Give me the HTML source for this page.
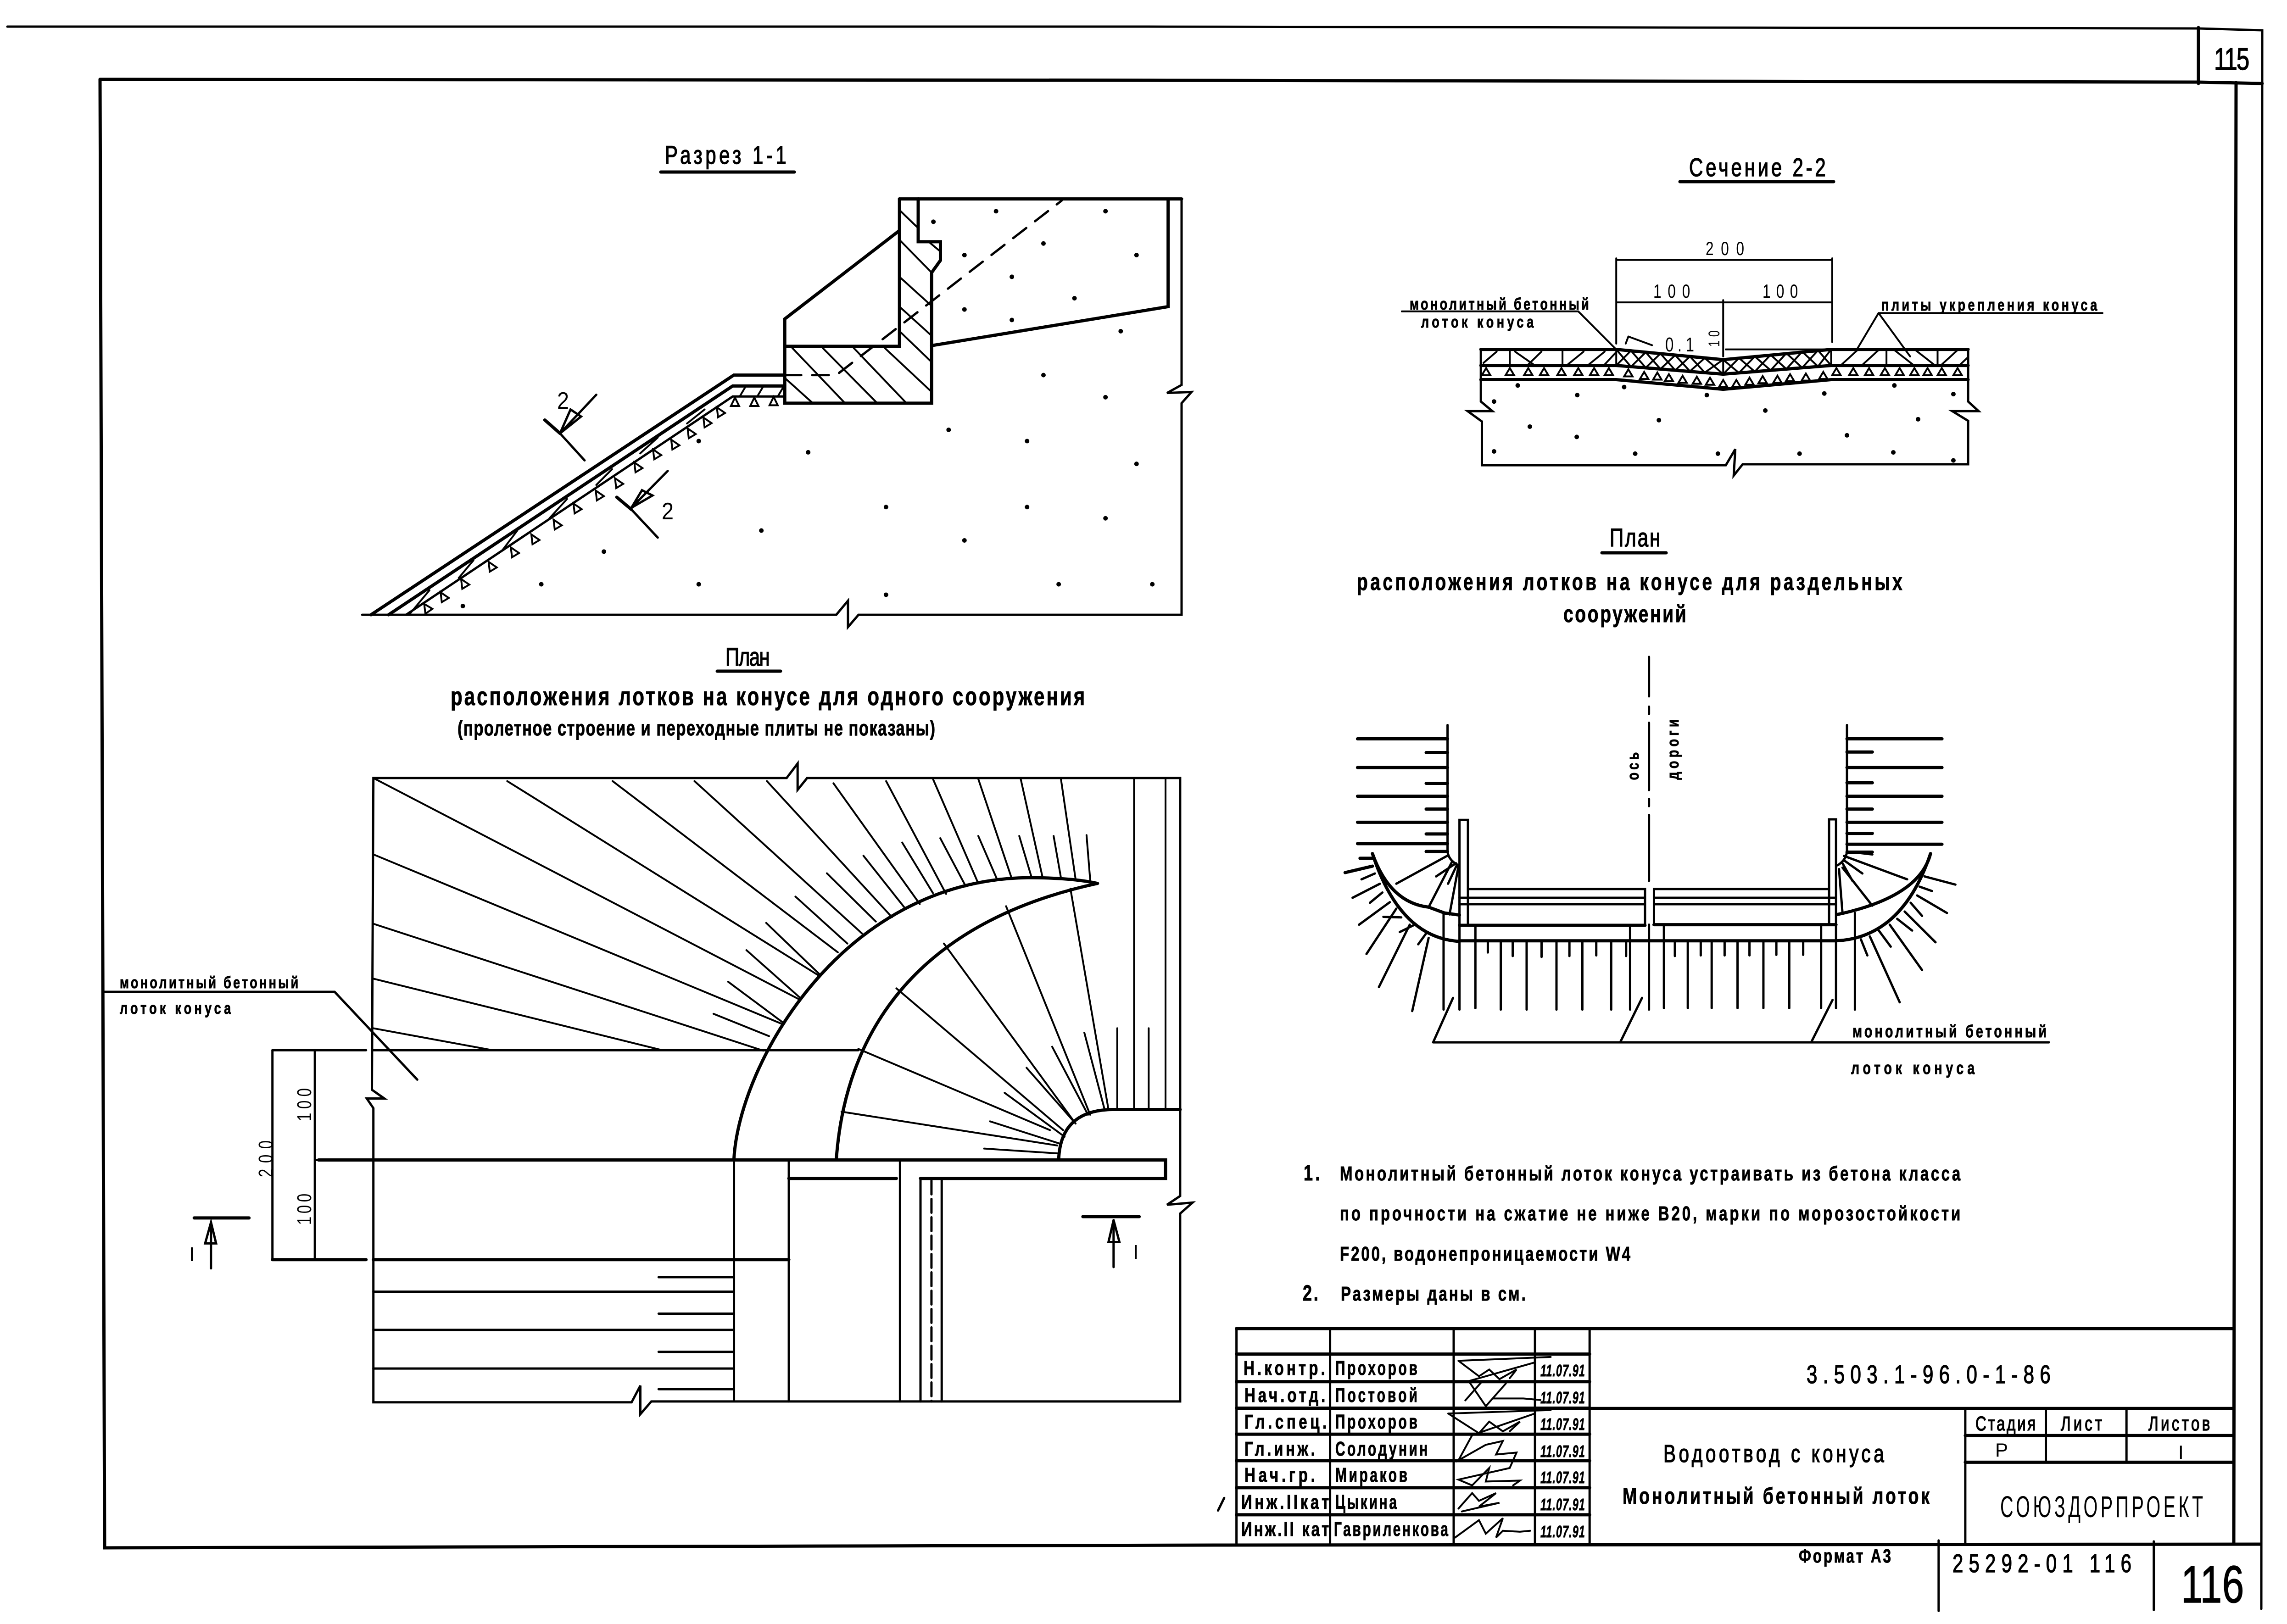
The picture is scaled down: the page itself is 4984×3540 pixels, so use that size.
<!DOCTYPE html>
<html><head><meta charset="utf-8"><title>Водоотвод с конуса</title>
<style>
html,body{margin:0;padding:0;background:#fff}
svg{display:block}
path,line{vector-effect:non-scaling-stroke}
.l{fill:none;stroke:#000;stroke-width:5;stroke-linejoin:miter;stroke-linecap:round}
.k{stroke-width:7}.t{stroke-width:4}.f{fill:#000;stroke:none}
.d{fill:none;stroke:#000;stroke-width:10;stroke-linecap:round}
text{fill:#000;stroke:none;font-family:"Liberation Sans",sans-serif}
.b{font-weight:700;stroke:#000;stroke-width:1}
.m{stroke:#000;stroke-width:1.5}
</style></head><body>
<svg xmlns="http://www.w3.org/2000/svg" width="4984" height="3540" viewBox="0 0 4984 3540">
<rect width="4984" height="3540" fill="#fff"/>

<!-- sheet frame -->
<g class="l">
<path d="M16,58 L2500,58 L4791,62 L4930,66 L4928,3507"/>
<path class="k" d="M4791,60 V182"/>
<path class="k" d="M218,173 L2500,175 L4791,179 L4930,182"/>
<path class="k" d="M4873,180 L4868,3366"/>
<path class="k" d="M218,173 L228,3374 L2650,3368 L4925,3366"/>
</g>
<text class="m" transform="translate(4825,152) scale(.75,1)" font-size="68" textLength="103" lengthAdjust="spacing">115</text>

<!-- Разрез 1-1 -->
<g class="l" transform="translate(700,250) scale(1.2755,.765)">
<path class="k" d="M988,240 H1470"/>
<path d="M1470,240 V770 L1445,793 L1487,790 L1470,822 V1425 H918 L900,1460 V1385 L880,1425 H70"/>
<path class="k" d="M988,240 V660 H792 V822 H1043 V450 L1058,415 V362 H1020 V240"/>
<path class="k" d="M792,660 V582 L988,330"/>
<path class="k" d="M1447,245 V547 L1043,658"/>
<path class="k" d="M85,1425 L705,742 H792"/>
<path d="M792,742 H880 L1265,245" stroke-dasharray="36 24"/>
<path class="k" d="M115,1425 L703,773 H792"/>
<path d="M145,1425 L703,803 H792"/>
<path class="t" d="M990,275 L1018,320 M990,360 L1043,450 M990,465 L1043,545 M990,550 L1043,630 M990,620 L1043,705 M1040,365 L1058,390 M805,665 L895,822 M857,665 L950,822 M910,665 L1000,822 M963,665 L1043,790 M792,750 L840,822"/>
<path class="t" d="M150,1425 L185,1355 M235,1320 L260,1270 M310,1240 L335,1185 M390,1150 L420,1095 M470,1055 L497,1010 M545,965 L575,920 M625,880 L655,840 M715,803 L725,775 M745,803 L755,775 M780,803 L790,775"/>
<path class="t" d="M176,1394L190,1408L178,1422ZM204,1361L218,1377L206,1389ZM239,1323L253,1339L241,1351ZM286,1274L300,1290L288,1302ZM324,1233L338,1249L326,1261ZM359,1196L373,1212L361,1224ZM397,1154L411,1170L399,1182ZM431,1108L445,1124L433,1136ZM469,1071L483,1087L471,1099ZM502,1036L516,1052L504,1064ZM535,991L549,1007L537,1019ZM567,954L581,970L569,982ZM598,926L612,942L600,954ZM626,894L640,910L628,922ZM653,863L667,879L655,891ZM676,834L690,850L678,862ZM707,806L714,830L700,830ZM740,806L747,830L733,830ZM773,804L780,828L766,828Z"/>
<path class="k" d="M382,870 L408,908"/>
<path d="M408,908 L450,985 M470,798 L408,908 M408,908 L426,840 L444,860 Z"/>
<path class="k" d="M505,1090 L530,1125"/>
<path d="M530,1125 L575,1205 M592,1015 L530,1120 M530,1120 L548,1070 L566,1085 Z"/>
<path class="d" d="M1153,275h.01M1340,275h.01M1046,305h.01M1234,367h.01M1099,400h.01M1393,400h.01M1180,462h.01M1287,523h.01M1099,555h.01M1180,585h.01M1366,617h.01M1234,742h.01M1340,805h.01M1072,898h.01M1206,930h.01M645,930h.01M832,962h.01M1393,995h.01M965,1118h.01M1206,1118h.01M1340,1150h.01M752,1185h.01M1099,1213h.01M483,1245h.01M376,1338h.01M645,1338h.01M1260,1338h.01M1420,1338h.01M965,1368h.01M242,1400h.01"/>
</g>
<text class="m" transform="translate(1449,357) scale(.75,1)" font-size="56" textLength="353" lengthAdjust="spacing">Разрез 1-1</text>
<path class="l k" d="M1440,375 H1731"/>
<text transform="translate(1214,891) scale(.9,1)" font-size="52">2</text>
<text transform="translate(1442,1132) scale(.9,1)" font-size="52">2</text>

<!-- Сечение 2-2 -->
<g class="l" transform="translate(2900,300) scale(1.148,.7015)">
<path d="M285,658 V820 L307,850 L260,850 L287,882 V1018 H750 L768,968 L765,1050 L782,1015 H1210 V880 L1180,850 H1230 L1210,820 V658"/>
<path class="k" d="M285,658 H542 L745,690 L950,658 H1210"/>
<path class="k" d="M285,708 H542 L745,735 L950,708 H1210"/>
<path class="k" d="M285,752 H542 L745,782 L950,752 H1210"/>
<path class="t" d="M542,658 V708 M950,658 V708 M745,690 V735 M340,660 V708 M440,660 V708 M1055,660 V708 M1152,660 V708"/>
<path class="t" d="M290,700 L315,665 M350,665 L385,705 M375,705 L400,665 M450,705 L480,665 M490,705 L520,665 M520,705 L540,670 M970,705 L1000,660 M1010,705 L1040,660 M1070,660 L1105,705 M1110,660 L1145,705 M1160,705 L1190,660 M1195,705 L1208,685"/>
<path class="t" d="M542,658 L570,712 L598,667 L626,719 L654,676 L682,726 L710,685 L745,735 M542,708 L570,662 L598,715 L626,671 L654,723 L682,680 L710,730 L745,690 M745,690 L775,731 L805,680 L835,723 L865,670 L895,715 L925,661 L950,708 M745,735 L775,685 L805,727 L835,675 L865,719 L895,665 L925,711 L950,658"/>
<path class="t" d="M287,738h16l-8,-22zM332,738h16l-8,-22zM367,738h16l-8,-22zM397,738h16l-8,-22zM430,738h16l-8,-22zM462,738h16l-8,-22zM492,738h16l-8,-22zM520,738h16l-8,-22zM557,742h16l-8,-22zM587,750h16l-8,-22zM612,752h16l-8,-22zM634,757h16l-8,-22zM660,762h16l-8,-22zM687,765h16l-8,-22zM712,768h16l-8,-22zM737,775h16l-8,-22zM762,775h16l-8,-22zM787,768h16l-8,-22zM812,763h16l-8,-22zM840,762h16l-8,-22zM864,757h16l-8,-22zM894,755h16l-8,-22zM927,750h16l-8,-22zM952,738h16l-8,-22zM984,738h16l-8,-22zM1014,738h16l-8,-22zM1044,738h16l-8,-22zM1072,738h16l-8,-22zM1100,738h16l-8,-22zM1125,738h16l-8,-22zM1152,738h16l-8,-22zM1182,738h16l-8,-22z"/>
<path class="t" d="M542,375 V640 M952,375 V635 M745,505 V680 M542,380 H952 M542,512 H952 M750,658 H950"/>
<path class="t" d="M565,618 L610,645 M565,618 L560,640"/>
<path class="t" d="M135,540 H470 L540,655 M1040,545 H1465 M1040,545 L1000,655 M1040,545 L1100,680"/>
<path class="d" d="M355,770h.01M557,775h.01M1070,770h.01M1182,797h.01M468,800h.01M714,800h.01M937,795h.01M310,820h.01M825,848h.01M623,878h.01M1115,875h.01M378,898h.01M467,930h.01M980,925h.01M310,975h.01M578,982h.01M735,982h.01M890,982h.01M1068,978h.01M1182,1003h.01"/>
</g>
<text class="m" transform="translate(3681,384) scale(.75,1)" font-size="56" textLength="397" lengthAdjust="spacing">Сечение 2-2</text>
<path class="l k" d="M3661,396 H3996"/>
<text transform="translate(3717,556) scale(.75,1)" font-size="42" textLength="112" lengthAdjust="spacing">200</text>
<text transform="translate(3603,649) scale(.75,1)" font-size="42" textLength="107" lengthAdjust="spacing">100</text>
<text transform="translate(3841,649) scale(.75,1)" font-size="42" textLength="103" lengthAdjust="spacing">100</text>
<text transform="translate(3629,766) scale(.75,1)" font-size="44" textLength="84" lengthAdjust="spacing">0.1</text>
<text transform="translate(3747,738) rotate(-90) scale(.75,1)" text-anchor="middle" font-size="34" textLength="48" lengthAdjust="spacing">10</text>
<text class="b" transform="translate(3072,675) scale(.75,1)" font-size="36" textLength="521" lengthAdjust="spacing">монолитный бетонный</text>
<text class="b" transform="translate(3097,714) scale(.75,1)" font-size="36" textLength="327" lengthAdjust="spacing">лоток конуса</text>
<text class="b" transform="translate(4100,677) scale(.75,1)" font-size="36" textLength="627" lengthAdjust="spacing">плиты укрепления конуса</text>
<text class="m" transform="translate(3508,1191) scale(.75,1)" font-size="56" textLength="147" lengthAdjust="spacing">План</text>
<path class="l k" d="M3491,1205 H3631"/>
<text class="b" transform="translate(2957,1286) scale(.75,1)" font-size="52" textLength="1585" lengthAdjust="spacing">расположения лотков на конусе для раздельных</text>
<text class="b" transform="translate(3407,1356) scale(.75,1)" font-size="52" textLength="357" lengthAdjust="spacing">сооружений</text>

<!-- План (левый) заголовки -->
<text class="m" transform="translate(1581,1451) scale(.75,1)" font-size="56" textLength="129" lengthAdjust="spacing">План</text>
<path class="l k" d="M1563,1463 H1701"/>
<text class="b" transform="translate(982,1537) scale(.75,1)" font-size="56" textLength="1843" lengthAdjust="spacing">расположения лотков на конусе для одного сооружения</text>
<text class="b" transform="translate(997,1603) scale(.75,1)" font-size="46" textLength="1388" lengthAdjust="spacing">(пролетное строение и переходные плиты не показаны)</text>

<!-- План (левый) -->
<g class="l" transform="translate(200,1650) scale(1.594,.957)">
<path d="M385,48 H950 L965,15 V75 L978,48 H1488 V1000 L1470,1020 L1505,1015 L1488,1040 V1468 H765 L750,1497 V1432 L738,1470 H385 V800 L376,778 H400 L383,758 Z"/>
<path class="t" d="M385,48 L967,552 M385,222 L942,607 M385,380 L918,669 M385,505 L780,668 M385,618 L548,668"/>
<path class="t" d="M568,55 L994,498 M712,55 L1020,445 M824,55 L1053,402 M923,55 L1094,365 M1014,60 L1132,335 M1086,55 L1168,312 M1150,50 L1212,288 M1212,50 L1258,278 M1270,50 L1300,275 M1325,50 L1345,278"/>
<path class="t" d="M850,585 L926,636 M870,512 L945,605 M895,440 L968,548 M922,378 L995,495 M962,318 L1033,425 M1005,265 L1072,375 M1055,225 L1112,345 M1108,195 L1150,310 M1160,185 L1195,295 M1212,180 L1238,280 M1268,180 L1285,275 M1315,180 L1325,275 M1360,178 L1365,280"/>
<path class="t" d="M1425,48 V803 M1468,48 V803"/>
<path class="k" d="M878,915 C885,700 1025,280 1280,275 Q1340,275 1375,288"/>
<path class="k" d="M1018,915 C1030,640 1120,380 1375,288"/>
<path class="t" d="M1048,665 L1310,850 M1100,527 L1328,850 M1165,425 L1345,835 M1250,340 L1365,815 M1338,300 L1390,803 M1025,808 L1320,885"/>
<path class="t" d="M1220,892 L1320,903 M1228,830 L1322,880 M1248,765 L1330,865 M1278,708 L1345,835 M1313,660 L1362,815 M1357,628 L1385,805 M1402,618 V803 M1445,618 V803"/>
<path class="k" d="M1322,915 Q1325,805 1395,803 H1488"/>
<path d="M247,668 H375 M385,668 H1048"/>
<path class="k" d="M310,918 H1468 V960 H1133 M1100,960 H953"/>
<path d="M247,668 V1145 M305,668 V1145 M305,918 H375"/>
<path class="k" d="M247,1145 H375 M385,1145 H953"/>
<path d="M878,915 V1465 M953,918 V1468 M1105,918 V1468 M1133,960 V1468 M1162,960 V1468"/>
<path d="M1148,965 V1468" stroke-dasharray="30 10"/>
<path d="M385,1218 H878 M385,1305 H878 M385,1393 H878 M775,1185 H878 M775,1268 H878 M775,1355 H878 M775,1440 H878"/>
<path d="M15,535 H332 L445,735"/>
<path class="k" d="M140,1050 H215 M1355,1047 H1432"/>
<path d="M163,1060 V1165 M155,1108 L163,1060 L170,1108 Z M1397,1055 V1162 M1390,1105 L1397,1055 L1405,1105 Z"/>
</g>
<text class="b" transform="translate(261,2154) scale(.75,1)" font-size="36" textLength="519" lengthAdjust="spacing">монолитный бетонный</text>
<text class="b" transform="translate(261,2210) scale(.75,1)" font-size="36" textLength="323" lengthAdjust="spacing">лоток конуса</text>
<text transform="translate(678,2408) rotate(-90) scale(.75,1)" text-anchor="middle" font-size="44" textLength="96" lengthAdjust="spacing">100</text>
<text transform="translate(678,2636) rotate(-90) scale(.75,1)" text-anchor="middle" font-size="44" textLength="91" lengthAdjust="spacing">100</text>
<text transform="translate(594,2526) rotate(-90) scale(.75,1)" text-anchor="middle" font-size="44" textLength="107" lengthAdjust="spacing">200</text>
<text x="412" y="2749" font-size="44">I</text>
<text x="2469" y="2744" font-size="44">I</text>

<!-- План (правый) -->
<g class="l" transform="translate(2850,1400) scale(1.084,.638)">
<path d="M686,50 V185 M686,220 V245 M686,275 V505 M686,535 V560 M686,590 V815"/>
<path d="M281,283 V715 Q283,745 303,762 M1084,283 V715 Q1082,745 1065,762"/>
<path class="k" d="M100,330 H281 M100,428 H281 M100,526 H281 M100,615 H281 M100,688 H281 M238,377 H281 M238,482 H281 M238,570 H281 M238,655 H281 M238,715 H281"/>
<path class="k" d="M1084,330 H1275 M1084,428 H1275 M1084,526 H1275 M1084,615 H1275 M1084,690 H1275 M1084,375 H1135 M1084,480 H1135 M1084,570 H1135 M1084,653 H1135 M1084,717 H1135"/>
<path d="M305,965 V607 H322 V965 M1048,965 V605 H1062 V965"/>
<path d="M322,843 H678 V962 M305,873 H678 M305,895 H678 M696,962 V843 H1048 M696,873 H1062 M696,895 H1062"/>
<path class="k" d="M305,967 H678 M696,965 H1062"/>
<path class="k" d="M305,1020 H1062"/>
<path class="k" d="M130,722 Q185,1010 305,1022 M130,722 Q165,890 243,905 L275,925 L305,932"/>
<path class="k" d="M1252,722 Q1195,1010 1062,1020 M1252,722 Q1230,870 1065,930"/>
<path d="M273,930 V1255 M305,965 V1255 M337,970 V1250 M388,1020 V1255 M440,1020 V1255 M500,1020 V1255 M552,1020 V1255 M610,1020 V1255 M648,970 V1255 M686,965 V1255 M716,970 V1250 M764,1020 V1250 M812,1020 V1250 M864,1020 V1250 M916,1020 V1250 M968,1020 V1250 M1032,970 V1250 M1062,965 V1250 M1100,925 V1255"/>
<path d="M362,1020 V1060 M412,1020 V1072 M470,1020 V1075 M526,1020 V1072 M580,1020 V1070 M640,1020 V1072 M738,1020 V1072 M790,1020 V1070 M838,1020 V1070 M888,1020 V1070 M942,1020 V1068 M996,1020 V1068"/>
<path d="M280,730 L178,825 M290,750 L243,905 M298,755 L258,800 M300,760 L282,825 M303,765 L285,930"/>
<path class="k" d="M130,765 L75,787 M105,738 H130"/>
<path d="M135,790 L108,810 M145,825 L90,873 M150,855 L125,890 M165,888 L103,965 M178,910 L118,1065 M188,940 L152,938 M205,965 L143,1178 M215,965 L185,990 M240,990 L222,1032 M243,1010 L210,1260"/>
<path d="M1085,715 L1135,725 M1078,730 L1205,810 M1078,745 L1115,790 M1075,755 L1095,815 M1075,770 L1135,900 M1068,775 L1075,925"/>
<path d="M1240,800 L1302,828 M1230,835 L1255,850 M1225,865 L1285,925 M1212,890 L1235,935 M1200,920 L1262,1025 M1185,945 L1215,985 M1170,965 L1235,1120 M1148,985 L1172,1040 M1130,1005 L1190,1230 M1112,1015 L1125,1070"/>
<path d="M252,1367 H1490 M252,1367 L292,1215 M628,1367 L672,1215 M1012,1367 L1055,1222"/>
</g>
<text class="b" transform="translate(3571,1670) rotate(-90) scale(.75,1)" text-anchor="middle" font-size="36" textLength="81" lengthAdjust="spacing">ось</text>
<text class="b" transform="translate(3658,1634) rotate(-90) scale(.75,1)" text-anchor="middle" font-size="36" textLength="175" lengthAdjust="spacing">дороги</text>
<text class="b" transform="translate(4037,2261) scale(.75,1)" font-size="38" textLength="564" lengthAdjust="spacing">монолитный бетонный</text>
<text class="b" transform="translate(4034,2341) scale(.75,1)" font-size="38" textLength="359" lengthAdjust="spacing">лоток конуса</text>

<!-- примечания -->
<text class="b" transform="translate(2841,2573) scale(.75,1)" font-size="48" textLength="47" lengthAdjust="spacing">1.</text>
<text class="b" transform="translate(2920,2573) scale(.75,1)" font-size="44" textLength="1803" lengthAdjust="spacing">Монолитный бетонный лоток конуса устраивать из бетона класса</text>
<text class="b" transform="translate(2920,2660) scale(.75,1)" font-size="44" textLength="1803" lengthAdjust="spacing">по прочности на сжатие не ниже В20, марки по морозостойкости</text>
<text class="b" transform="translate(2920,2748) scale(.75,1)" font-size="44" textLength="844" lengthAdjust="spacing">F200, водонепроницаемости W4</text>
<text class="b" transform="translate(2839,2835) scale(.75,1)" font-size="48" textLength="45" lengthAdjust="spacing">2.</text>
<text class="b" transform="translate(2922,2835) scale(.75,1)" font-size="44" textLength="537" lengthAdjust="spacing">Размеры даны в см.</text>

<!-- штамп -->
<g class="l" transform="translate(2650,2880) scale(1.4885,.421)">
<path class="k" d="M30,38 H1490"/>
<path d="M30,38 V1150 M167,38 V1150 M348,38 V1150 M467,38 V1150 M547,38 V1150"/>
<path class="k" d="M30,170 H547 M30,313 H547 M30,450 H547 M30,585 H547 M30,722 H547 M30,862 H547 M30,1002 H547"/>
<path class="k" d="M547,452 H1490 M1097,592 H1490 M1097,730 H1490"/>
<path d="M1097,452 V1150 M1215,452 V730 M1333,452 V730"/>
<path d="M1058,1135 V1500 M1373,1140 V1495"/>
<path d="M12,915 L3,980"/>
<path class="t" d="M355,205 L490,185 M355,205 L385,285 L400,250 L415,300 L440,250 L430,295 M465,215 L370,310 L395,440 L425,320 L405,400 L450,400 L475,408 M390,310 L365,410"/>
<path class="t" d="M340,478 L490,460 M340,478 L385,580 L400,520 L420,570 L445,520 L430,570 M465,480 L375,590 L355,720 L395,640 L420,620 L410,690 L440,680 L430,760 L355,820 L375,850 L400,760 L395,830 L445,825 L435,850"/>
<path class="t" d="M355,970 L375,890 L385,930 L410,890 L385,960 L415,940 L360,985"/>
<path class="t" d="M350,1120 L385,1030 L395,1100 L420,1020 L410,1120 L420,1085 L445,1090 L460,1085"/>
</g>
<text class="b" transform="translate(2710,2997) scale(.75,1)" font-size="44" textLength="237" lengthAdjust="spacing">Н.контр.</text>
<text class="b" transform="translate(2712,3056) scale(.75,1)" font-size="44" textLength="235" lengthAdjust="spacing">Нач.отд.</text>
<text class="b" transform="translate(2712,3114) scale(.75,1)" font-size="44" textLength="239" lengthAdjust="spacing">Гл.спец.</text>
<text class="b" transform="translate(2712,3173) scale(.75,1)" font-size="44" textLength="205" lengthAdjust="spacing">Гл.инж.</text>
<text class="b" transform="translate(2712,3230) scale(.75,1)" font-size="44" textLength="205" lengthAdjust="spacing">Нач.гр.</text>
<text class="b" transform="translate(2705,3289) scale(.75,1)" font-size="44" textLength="255" lengthAdjust="spacing">Инж.IIкат</text>
<text class="b" transform="translate(2705,3348) scale(.75,1)" font-size="44" textLength="255" lengthAdjust="spacing">Инж.II кат</text>
<text class="b" transform="translate(2910,2997) scale(.68,1)" font-size="44" textLength="263" lengthAdjust="spacing">Прохоров</text>
<text class="b" transform="translate(2910,3056) scale(.68,1)" font-size="44" textLength="263" lengthAdjust="spacing">Постовой</text>
<text class="b" transform="translate(2910,3114) scale(.68,1)" font-size="44" textLength="263" lengthAdjust="spacing">Прохоров</text>
<text class="b" transform="translate(2910,3173) scale(.68,1)" font-size="44" textLength="296" lengthAdjust="spacing">Солодунин</text>
<text class="b" transform="translate(2910,3230) scale(.68,1)" font-size="44" textLength="231" lengthAdjust="spacing">Мираков</text>
<text class="b" transform="translate(2910,3289) scale(.68,1)" font-size="44" textLength="197" lengthAdjust="spacing">Цыкина</text>
<text class="b" transform="translate(2907,3348) scale(.68,1)" font-size="44" textLength="366" lengthAdjust="spacing">Гавриленкова</text>
<text class="b" transform="translate(3357,3000) scale(.65,1)" font-size="36" font-style="italic" textLength="149" lengthAdjust="spacing">11.07.91</text>
<text class="b" transform="translate(3357,3059) scale(.65,1)" font-size="36" font-style="italic" textLength="149" lengthAdjust="spacing">11.07.91</text>
<text class="b" transform="translate(3357,3117) scale(.65,1)" font-size="36" font-style="italic" textLength="149" lengthAdjust="spacing">11.07.91</text>
<text class="b" transform="translate(3357,3176) scale(.65,1)" font-size="36" font-style="italic" textLength="149" lengthAdjust="spacing">11.07.91</text>
<text class="b" transform="translate(3357,3233) scale(.65,1)" font-size="36" font-style="italic" textLength="149" lengthAdjust="spacing">11.07.91</text>
<text class="b" transform="translate(3357,3292) scale(.65,1)" font-size="36" font-style="italic" textLength="149" lengthAdjust="spacing">11.07.91</text>
<text class="b" transform="translate(3357,3351) scale(.65,1)" font-size="36" font-style="italic" textLength="149" lengthAdjust="spacing">11.07.91</text>
<text class="m" transform="translate(3937,3015) scale(.75,1)" font-size="56" textLength="709" lengthAdjust="spacing">3.503.1-96.0-1-86</text>
<text class="m" transform="translate(3625,3187) scale(.75,1)" font-size="54" textLength="641" lengthAdjust="spacing">Водоотвод с конуса</text>
<text class="b" transform="translate(3536,3278) scale(.75,1)" font-size="50" textLength="892" lengthAdjust="spacing">Монолитный бетонный лоток</text>
<text class="m" transform="translate(4305,3118) scale(.75,1)" font-size="44" textLength="175" lengthAdjust="spacing">Стадия</text>
<text class="m" transform="translate(4491,3118) scale(.75,1)" font-size="44" textLength="120" lengthAdjust="spacing">Лист</text>
<text class="m" transform="translate(4682,3118) scale(.75,1)" font-size="44" textLength="179" lengthAdjust="spacing">Листов</text>
<text x="4348" y="3175" font-size="42">Р</text>
<text x="4747" y="3180" font-size="42">I</text>
<text transform="translate(4359,3307) scale(.6,1)" font-size="66" textLength="737" lengthAdjust="spacing">СОЮЗДОРПРОЕКТ</text>
<text class="b" transform="translate(3920,3406) scale(.75,1)" font-size="42" textLength="268" lengthAdjust="spacing">Формат А3</text>
<text class="m" transform="translate(4255,3427) scale(.75,1)" font-size="56" textLength="520" lengthAdjust="spacing">25292-01 116</text>
<text class="m" transform="translate(4753,3493) scale(.75,1)" font-size="114" textLength="183" lengthAdjust="spacing">116</text>
</svg>
</body></html>
